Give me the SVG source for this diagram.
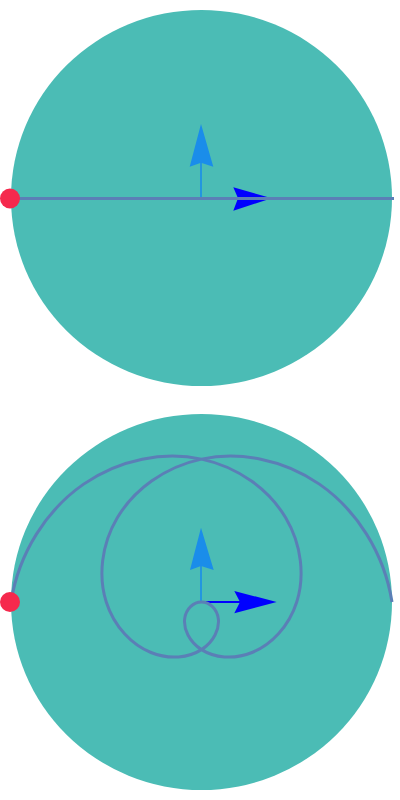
<svg xmlns="http://www.w3.org/2000/svg" width="400" height="800" viewBox="0 0 400 800">
<style>
.disc{fill:#4bbcb5}
.path{fill:none;stroke:#5b7fb6;stroke-width:3}
.up{fill:#1a8dea}
.upl{stroke:#1a8dea;stroke-width:1.6}
.rt{fill:#0000ff}
.rtl{stroke:#0000ff;stroke-width:2}
.dot{fill:#f5294d}
</style>
<rect width="400" height="800" fill="#ffffff"/>
<g id="top-frame">
  <ellipse class="disc" cx="201.5" cy="198" rx="190.5" ry="188"/>
  <g id="top-up-arrow">
    <line class="upl" x1="201" y1="198" x2="201" y2="162"/>
    <polygon class="up" points="201,124 213.3,166.7 201,162.7 189.7,166.7"/>
  </g>
  <g id="top-right-arrow">
    <polygon class="rt" points="271.7,198.3 233.3,187.3 238,198.3 233.3,210.7"/>
  </g>
  <g id="top-path">
    <line class="path" x1="11" y1="198.5" x2="394" y2="198.5"/>
  </g>
  <g id="top-dot"><circle class="dot" cx="10" cy="198.5" r="10"/></g>
</g>
<g id="bottom-frame">
  <ellipse class="disc" cx="201.5" cy="602" rx="190.5" ry="188"/>
  <g id="bottom-up-arrow">
    <line class="upl" x1="201" y1="602" x2="201" y2="566"/>
    <polygon class="up" points="201,527.7 213.7,570 201,566 190,570"/>
  </g>
  <g id="bottom-right-arrow">
    <line class="rtl" x1="201" y1="602" x2="240" y2="602"/>
    <polygon class="rt" points="276.7,602 234.3,591 240,602 234.3,613.3"/>
  </g>
  <g id="bottom-path">
    <path class="path" d="M11,602 C18.938,552.127 47.164,509.379 83.634,484.134 C120.104,458.889 164.095,451.188 201.5,459.125 C238.905,467.063 269.261,490.156 285.69,517.81 C302.119,545.464 304.688,577.064 296.75,602 C288.813,626.936 270.851,644.902 252.014,652.514 C233.177,660.126 213.968,657.563 201.5,649.625 C189.032,641.688 183.457,628.859 184.662,618.838 C185.867,608.817 193.563,602 201.5,602 C209.438,602 217.133,608.817 218.338,618.838 C219.543,628.859 213.968,641.688 201.5,649.625 C189.032,657.563 169.823,660.126 150.986,652.514 C132.149,644.902 114.188,626.936 106.25,602 C98.313,577.064 100.881,545.464 117.31,517.81 C133.739,490.156 164.095,467.063 201.5,459.125 C238.905,451.188 282.896,458.889 319.366,484.134 C355.836,509.379 384.063,552.127 392,602"/>
  </g>
  <g id="bottom-dot"><circle class="dot" cx="10" cy="602" r="10"/></g>
</g>
</svg>
